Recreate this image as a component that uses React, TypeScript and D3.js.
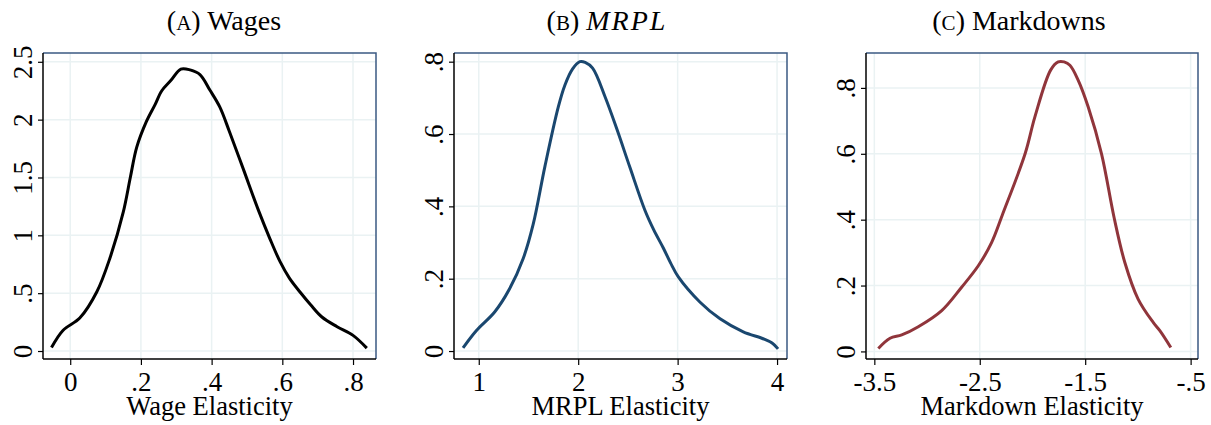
import React, { useEffect, useRef } from 'react';
import * as d3 from 'd3';

// panel A: wages
const wageX = [-0.053, -0.02, 0.027, 0.075, 0.112, 0.15, 0.17, 0.188, 0.215, 0.24, 0.259, 0.285, 0.313, 0.339, 0.367, 0.395, 0.423, 0.45, 0.49, 0.532, 0.565, 0.594, 0.62, 0.65, 0.68, 0.712, 0.755, 0.8, 0.839];
const wageY = [0.03, 0.18, 0.285, 0.51, 0.8, 1.2, 1.5, 1.76, 1.98, 2.13, 2.25, 2.34, 2.437, 2.43, 2.39, 2.256, 2.11, 1.9, 1.57, 1.22, 0.97, 0.77, 0.63, 0.51, 0.4, 0.294, 0.21, 0.135, 0.025];
const wageTicksX = [0, 0.2, 0.4, 0.6, 0.8];
const wageTicksY = [0, 0.5, 1, 1.5, 2, 2.5];

// panel B: MRPL
const mrplX = [0.842, 0.977, 1.16, 1.31, 1.446, 1.547, 1.665, 1.8, 1.866, 1.944, 2.017, 2.07, 2.145, 2.27, 2.387, 2.52, 2.67, 2.76, 2.856, 2.93, 3.007, 3.226, 3.427, 3.66, 3.86, 3.95, 4.01];
const mrplY = [0.009, 0.057, 0.108, 0.172, 0.255, 0.35, 0.51, 0.675, 0.735, 0.78, 0.8, 0.798, 0.782, 0.703, 0.615, 0.508, 0.39, 0.335, 0.285, 0.243, 0.205, 0.135, 0.089, 0.053, 0.034, 0.022, 0.006];
const mrplTicksX = [1, 2, 3, 4];
const mrplTicksY = [0, 0.2, 0.4, 0.6, 0.8];

// panel C: markdowns
const mkdX = [-3.462, -3.351, -3.24, -3.083, -2.861, -2.672, -2.514, -2.387, -2.285, -2.07, -1.977, -1.828, -1.756, -1.7, -1.645, -1.567, -1.472, -1.345, -1.225, -1.124, -0.998, -0.855, -0.792, -0.688];
const mkdY = [0.009, 0.04, 0.05, 0.075, 0.124, 0.195, 0.26, 0.331, 0.415, 0.6, 0.712, 0.854, 0.879, 0.879, 0.869, 0.824, 0.743, 0.6, 0.405, 0.27, 0.159, 0.088, 0.063, 0.012];
const mkdTicksX = [-3.5, -2.5, -1.5, -0.5];
const mkdTicksY = [0, 0.2, 0.4, 0.6, 0.8];

const fmt = (v: number) => {
  const s = String(Math.round(v * 100) / 100);
  return s.replace(/^0\./, '.').replace(/^-0\./, '-.');
};

const panels = [
  { letter: 'A', title: 'Wages', italic: false, titleX: 224, xlabel: 'Wage Elasticity',
    xs: wageX, ys: wageY, ticksX: wageTicksX, ticksY: wageTicksY,
    left: 43, right: 376, xDom: [-0.077, 0.865], yDom: [-0.069, 2.576], color: '#000000' },
  { letter: 'B', title: 'MRPL', italic: true, titleX: 607, xlabel: 'MRPL Elasticity',
    xs: mrplX, ys: mrplY, ticksX: mrplTicksX, ticksY: mrplTicksY,
    left: 454, right: 787, xDom: [0.751, 4.10], yDom: [-0.022, 0.824], color: '#1a476f' },
  { letter: 'C', title: 'Markdowns', italic: false, titleX: 1019, xlabel: 'Markdown Elasticity',
    xs: mkdX, ys: mkdY, ticksX: mkdTicksX, ticksY: mkdTicksY,
    left: 866, right: 1198, xDom: [-3.579, -0.43], yDom: [-0.023, 0.906], color: '#90353b' },
];

const App = () => {
  const ref = useRef<SVGSVGElement>(null);

  useEffect(() => {
    const svg = d3.select(ref.current);
    svg.selectAll('*').remove();

    const top = 53, bottom = 359;
    const font = 'Liberation Serif, Times New Roman, serif';

    panels.forEach(p => {
      const x = d3.scaleLinear().domain(p.xDom).range([p.left, p.right]);
      const y = d3.scaleLinear().domain(p.yDom).range([bottom, top]);
      const g = svg.append('g');

      // grid
      g.selectAll('.gx').data(p.ticksX).join('line')
        .attr('x1', d => x(d)).attr('x2', d => x(d))
        .attr('y1', top).attr('y2', bottom)
        .attr('stroke', '#eaf2f3').attr('stroke-width', 1.5);
      g.selectAll('.gy').data(p.ticksY).join('line')
        .attr('x1', p.left).attr('x2', p.right)
        .attr('y1', d => y(d)).attr('y2', d => y(d))
        .attr('stroke', '#eaf2f3').attr('stroke-width', 1.5);

      // outline top/right
      g.append('path')
        .attr('d', `M${p.left},${top}H${p.right}V${bottom}`)
        .attr('fill', 'none').attr('stroke', '#3b5a82').attr('stroke-width', 1.5);

      // curve
      const pts = p.xs.map((v, i) => [v, p.ys[i]] as [number, number]);
      g.append('path')
        .datum(pts)
        .attr('d', d3.line<[number, number]>().x(d => x(d[0])).y(d => y(d[1])).curve(d3.curveCatmullRom.alpha(0.5)))
        .attr('fill', 'none').attr('stroke', p.color).attr('stroke-width', 3)
        .attr('stroke-linejoin', 'round');

      // axes
      const xAxis = g.append('g').attr('transform', `translate(0,${bottom})`)
        .call(d3.axisBottom(x).tickValues(p.ticksX).tickSize(6).tickFormat(d => fmt(+d)));
      const yAxis = g.append('g').attr('transform', `translate(${p.left},0)`)
        .call(d3.axisLeft(y).tickValues(p.ticksY).tickSize(5).tickFormat(d => fmt(+d)));
      [xAxis, yAxis].forEach(a => {
        a.select('.domain').attr('stroke', '#000').attr('stroke-width', 1.5)
          .attr('d', a === xAxis ? `M${p.left},0H${p.right}` : `M0,${top}V${bottom}`);
        a.selectAll('.tick line').attr('stroke', '#000').attr('stroke-width', 1.2);
        a.selectAll('text').attr('font-family', font).attr('font-size', 27).attr('fill', '#000');
      });
      xAxis.selectAll('text').attr('dy', null).attr('y', 32);
      yAxis.selectAll('text')
        .attr('x', null).attr('dy', null)
        .attr('transform', 'translate(-11,0) rotate(-90)')
        .attr('text-anchor', 'middle').attr('y', 0);

      // axis title
      g.append('text')
        .attr('x', (p.left + p.right) / 2).attr('y', 415)
        .attr('text-anchor', 'middle')
        .attr('font-family', font).attr('font-size', 26.5)
        .text(p.xlabel);

      // panel title
      const t = g.append('text')
        .attr('x', p.titleX).attr('y', 30)
        .attr('text-anchor', 'middle')
        .attr('font-family', font).attr('font-size', 28);
      t.append('tspan').text('(');
      t.append('tspan').attr('font-size', 21).text(p.letter);
      t.append('tspan').text(') ');
      t.append('tspan').attr('font-style', p.italic ? 'italic' : 'normal')
        .attr('letter-spacing', p.italic ? 2 : 0).text(p.title);
    });
  }, []);

  return (
    <svg ref={ref} width={1211} height={425}
      style={{ position: 'absolute', left: 0, top: 0, background: '#fff' }} />
  );
};

export default App;
